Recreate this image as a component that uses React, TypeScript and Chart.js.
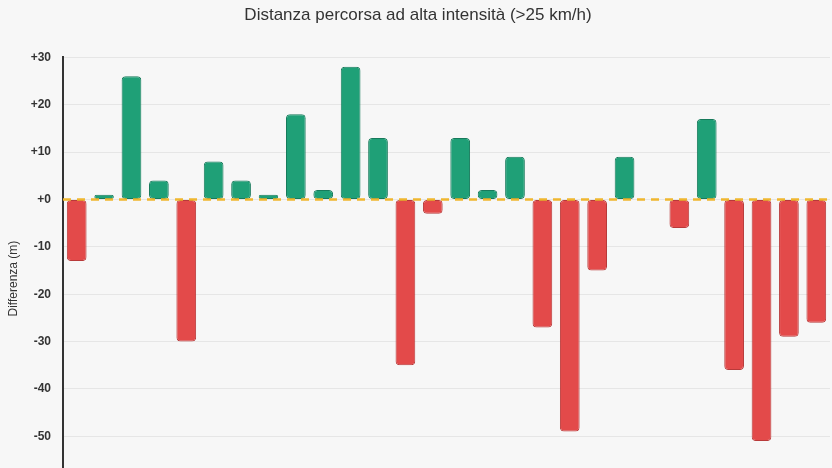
import { useEffect, useRef } from 'react';
import { Chart, registerables } from 'chart.js';

Chart.register(...registerables);

// one bar per session, difference vs. reference in metres
const SESSIONS = Array.from({ length: 28 }, (_, i) => `S${i + 1}`);
const DIFF = [
  -13, 1, 26, 4, -30, 8, 4, 1, 18, 2, 28, 13, -35, -3,
  13, 2, 9, -27, -49, -15, 9, 0, -6, 17, -36, -51, -29, -26,
];
const Y_TICKS = [30, 20, 10, 0, -10, -20, -30, -40, -50, -60];

const GREEN = '#1fa077';
const GREEN_EDGE = '#177a5b';
const RED = '#e34a4a';
const RED_EDGE = '#b83a3a';

const zeroLine = {
  id: 'zeroLine',
  afterDatasetsDraw(chart: Chart) {
    const { ctx, chartArea, scales } = chart;
    const y = scales.y.getPixelForValue(0);
    ctx.save();
    ctx.strokeStyle = '#f0b72f';
    ctx.lineWidth = 2.5;
    ctx.setLineDash([8, 6]);
    ctx.beginPath();
    ctx.moveTo(chartArea.left, y);
    ctx.lineTo(chartArea.right, y);
    ctx.stroke();
    ctx.restore();
  },
};

export default function App() {
  const canvasRef = useRef<HTMLCanvasElement>(null);

  useEffect(() => {
    document.body.style.margin = '0';
    document.body.style.background = '#f7f7f7';
    document.body.style.overflow = 'hidden';
    if (!canvasRef.current) return;

    const chart = new Chart(canvasRef.current, {
      type: 'bar',
      data: {
        labels: SESSIONS,
        datasets: [{
          data: DIFF,
          backgroundColor: DIFF.map(v => (v >= 0 ? GREEN : RED)),
          borderColor: DIFF.map(v => (v >= 0 ? GREEN_EDGE : RED_EDGE)),
          borderWidth: 1,
          borderRadius: 4,
          borderSkipped: false,
        }],
      },
      options: {
        animation: false,
        responsive: true,
        maintainAspectRatio: false,
        layout: { padding: { left: 6, right: 2, top: 0, bottom: 0 } },
        plugins: {
          legend: { display: false },
          tooltip: { enabled: false },
          title: {
            display: true,
            text: 'Distanza percorsa ad alta intensità (>25 km/h)',
            color: '#333',
            font: { size: 17, family: 'Arial, Liberation Sans, sans-serif', weight: 'normal' },
            padding: { top: 5, bottom: 32 },
          },
        },
        scales: {
          x: { display: false },
          y: {
            min: -63.4,
            max: 30,
            afterFit: (s: any) => { s.width = 57; },
            afterBuildTicks: (s: any) => { s.ticks = Y_TICKS.map(v => ({ value: v })); },
            border: { display: true, color: '#333', width: 2 },
            grid: { color: '#e6e6e6', drawTicks: false },
            ticks: {
              padding: 12,
              color: '#333',
              font: { size: 12, weight: 'bold', family: 'Arial, Liberation Sans, sans-serif' },
              callback: (v: any) => (v >= 0 ? `+${v}` : `${v}`),
            },
            title: {
              display: true,
              text: 'Differenza (m)',
              color: '#333',
              font: { size: 12, family: 'Arial, Liberation Sans, sans-serif' },
              padding: 0,
            },
          },
        },
      },
      plugins: [zeroLine],
    });

    return () => chart.destroy();
  }, []);

  return (
    <div style={{ width: 832, height: 519, position: 'relative' }}>
      <canvas ref={canvasRef} />
    </div>
  );
}
